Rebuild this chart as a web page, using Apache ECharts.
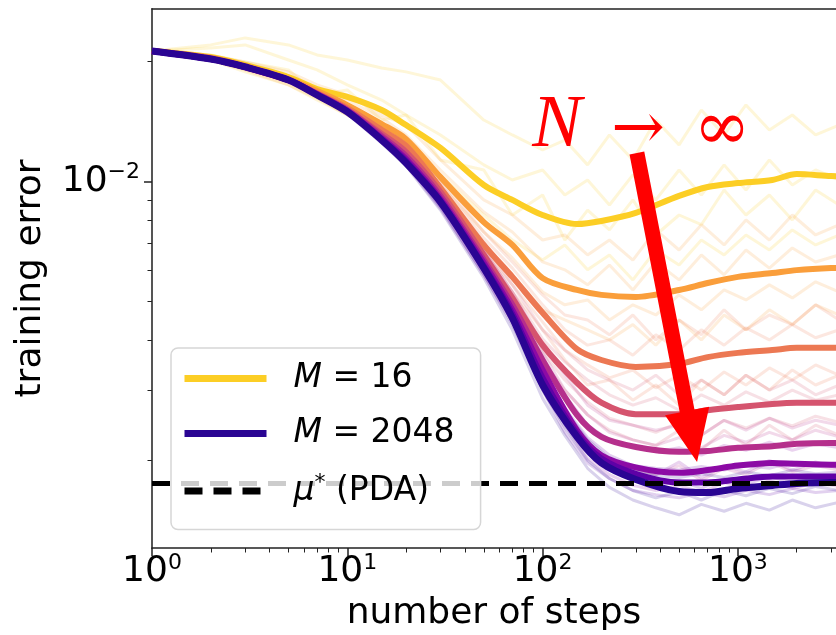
<!DOCTYPE html>
<html>
<head>
<meta charset="utf-8">
<script src="https://cdn.jsdelivr.net/npm/echarts@6/dist/echarts.min.js"></script>
<style>
  html, body { margin: 0; padding: 0; background: #fff; }
  #chart { width: 836px; height: 635px; }
</style>
</head>
<body>
<div id="chart"></div>
<script>
  // x grid of the averaged curves and of the single runs
  const steps = [1, 2, 3, 5, 7, 10, 15, 20, 30, 50, 70, 100, 150, 200, 300, 500, 700, 1000, 1500, 2000, 3000, 4000];
  const runSteps = [1, 2, 3, 5, 7, 10, 15, 20, 30, 50, 70, 100, 130, 170, 220, 290, 380, 500, 650, 850, 1100, 1450, 1900, 2500, 3300];

  const sizes = [16, 32, 64, 128, 256, 512, 1024, 2048];
  const colors = ['#fcce25', '#fa9e3b', '#ec7853', '#d5546e', '#b52f8c', '#8c0aa5', '#5f01a6', '#2a0593'];

  // averaged training error per M
  const meanM16 = [0.02128, 0.02055, 0.01963, 0.01830, 0.01708, 0.01632, 0.01513, 0.01387, 0.01215, 0.00981, 0.00900, 0.00825, 0.00783, 0.00797, 0.00835, 0.00921, 0.00970, 0.00992, 0.01010, 0.01045, 0.01033, 0.01030];
  const meanM32 = [0.02128, 0.02043, 0.01951, 0.01809, 0.01688, 0.01557, 0.01395, 0.01279, 0.01027, 0.00792, 0.00694, 0.00573, 0.00535, 0.00520, 0.00514, 0.00535, 0.00557, 0.00577, 0.00590, 0.00600, 0.00607, 0.00608];
  const meanM64 = [0.02128, 0.02043, 0.01940, 0.01799, 0.01669, 0.01530, 0.01348, 0.01229, 0.00964, 0.00694, 0.00577, 0.00469, 0.00380, 0.00357, 0.00343, 0.00349, 0.00363, 0.00372, 0.00378, 0.00383, 0.00383, 0.00383];
  const meanM128 = [0.02128, 0.02031, 0.01940, 0.01799, 0.01660, 0.01513, 0.01318, 0.01187, 0.00942, 0.00655, 0.00511, 0.00389, 0.00313, 0.00279, 0.00261, 0.00261, 0.00267, 0.00272, 0.00277, 0.00279, 0.00279, 0.00279];
  const meanM256 = [0.02128, 0.02031, 0.01940, 0.01799, 0.01660, 0.01513, 0.01302, 0.01160, 0.00921, 0.00636, 0.00491, 0.00357, 0.00260, 0.00229, 0.00216, 0.00210, 0.00211, 0.00215, 0.00217, 0.00220, 0.00221, 0.00221];
  const meanM512 = [0.02128, 0.02031, 0.01940, 0.01799, 0.01660, 0.01504, 0.01287, 0.01140, 0.00905, 0.00625, 0.00477, 0.00337, 0.00238, 0.00206, 0.00192, 0.00186, 0.00189, 0.00194, 0.00197, 0.00196, 0.00195, 0.00195];
  const meanM1024 = [0.02128, 0.02031, 0.01940, 0.01799, 0.01650, 0.01504, 0.01279, 0.01127, 0.00895, 0.00614, 0.00466, 0.00322, 0.00233, 0.00202, 0.00185, 0.00176, 0.00176, 0.00179, 0.00182, 0.00182, 0.00182, 0.00182];
  const meanM2048 = [0.02128, 0.02031, 0.01940, 0.01799, 0.01650, 0.01496, 0.01272, 0.01114, 0.00889, 0.00607, 0.00455, 0.00309, 0.00229, 0.00197, 0.00179, 0.00167, 0.00166, 0.00170, 0.00173, 0.00175, 0.00176, 0.00176];

  // a few single runs per M (the faint lines)
  const runsM16 = [
    [0.02128, 0.02204, 0.02295, 0.02204, 0.02080, 0.02020, 0.01929, 0.01886, 0.01799, 0.01428, 0.01310, 0.01201, 0.01272, 0.01102, 0.01310, 0.01134, 0.01428, 0.01237, 0.01513, 0.01310, 0.01558, 0.01348, 0.01470, 0.01310, 0.01388],
    [0.02128, 0.02020, 0.01886, 0.01749, 0.01603, 0.01470, 0.01310, 0.01134, 0.01040, 0.00825, 0.00714, 0.00636, 0.00694, 0.00601, 0.00655, 0.00567, 0.00674, 0.00618, 0.00714, 0.00655, 0.00735, 0.00674, 0.00757, 0.00694, 0.00735],
    [0.02128, 0.02080, 0.01997, 0.01907, 0.01651, 0.01699, 0.01428, 0.01470, 0.01134, 0.01070, 0.00825, 0.00926, 0.00714, 0.00849, 0.00757, 0.00900, 0.00735, 0.00825, 0.00780, 0.00953, 0.00825, 0.00926, 0.00802, 0.00953, 0.00874],
    [0.02128, 0.02166, 0.02204, 0.02020, 0.01907, 0.01749, 0.01603, 0.01470, 0.01310, 0.01102, 0.01010, 0.01070, 0.00926, 0.01010, 0.00874, 0.01040, 0.00900, 0.01070, 0.00926, 0.01102, 0.00953, 0.01134, 0.00981, 0.01070, 0.01010]
  ];
  const runsM32 = [
    [0.02128, 0.02067, 0.01997, 0.01886, 0.01749, 0.01651, 0.01470, 0.01388, 0.01134, 0.00900, 0.00825, 0.00714, 0.00735, 0.00655, 0.00714, 0.00636, 0.00757, 0.00674, 0.00780, 0.00694, 0.00802, 0.00714, 0.00825, 0.00735, 0.00780],
    [0.02128, 0.02020, 0.01907, 0.01749, 0.01621, 0.01470, 0.01310, 0.01167, 0.00926, 0.00694, 0.00584, 0.00477, 0.00450, 0.00425, 0.00401, 0.00438, 0.00389, 0.00450, 0.00401, 0.00463, 0.00425, 0.00477, 0.00438, 0.00491, 0.00463],
    [0.02128, 0.02055, 0.01974, 0.01842, 0.01718, 0.01603, 0.01445, 0.01310, 0.01070, 0.00839, 0.00748, 0.00629, 0.00601, 0.00551, 0.00618, 0.00535, 0.00629, 0.00567, 0.00655, 0.00584, 0.00674, 0.00607, 0.00682, 0.00629, 0.00655],
    [0.02128, 0.02031, 0.01940, 0.01799, 0.01679, 0.01530, 0.01364, 0.01237, 0.00981, 0.00748, 0.00644, 0.00529, 0.00491, 0.00505, 0.00450, 0.00491, 0.00463, 0.00520, 0.00477, 0.00535, 0.00505, 0.00551, 0.00511, 0.00561, 0.00529]
  ];
  const runsM64 = [
    [0.02128, 0.02055, 0.01963, 0.01820, 0.01699, 0.01558, 0.01388, 0.01272, 0.01010, 0.00748, 0.00629, 0.00520, 0.00463, 0.00450, 0.00413, 0.00463, 0.00401, 0.00450, 0.00413, 0.00477, 0.00425, 0.00463, 0.00438, 0.00491, 0.00450],
    [0.02128, 0.02031, 0.01918, 0.01780, 0.01641, 0.01496, 0.01302, 0.01201, 0.00910, 0.00644, 0.00529, 0.00425, 0.00357, 0.00309, 0.00318, 0.00283, 0.00309, 0.00275, 0.00318, 0.00292, 0.00327, 0.00300, 0.00337, 0.00309, 0.00327],
    [0.02128, 0.02043, 0.01951, 0.01809, 0.01679, 0.01541, 0.01356, 0.01244, 0.00988, 0.00722, 0.00607, 0.00491, 0.00425, 0.00389, 0.00401, 0.00367, 0.00413, 0.00378, 0.00425, 0.00389, 0.00430, 0.00401, 0.00438, 0.00406, 0.00425],
    [0.02128, 0.02031, 0.01929, 0.01790, 0.01650, 0.01513, 0.01326, 0.01201, 0.00936, 0.00666, 0.00551, 0.00445, 0.00378, 0.00347, 0.00322, 0.00337, 0.00304, 0.00327, 0.00300, 0.00333, 0.00309, 0.00341, 0.00318, 0.00347, 0.00327]
  ];
  const runsM128 = [
    [0.02128, 0.02043, 0.01951, 0.01809, 0.01669, 0.01530, 0.01348, 0.01222, 0.00981, 0.00694, 0.00551, 0.00425, 0.00378, 0.00337, 0.00318, 0.00300, 0.00327, 0.00292, 0.00318, 0.00292, 0.00327, 0.00300, 0.00318, 0.00292, 0.00309],
    [0.02128, 0.02020, 0.01929, 0.01780, 0.01635, 0.01487, 0.01257, 0.01110, 0.00900, 0.00618, 0.00472, 0.00357, 0.00300, 0.00260, 0.00238, 0.00225, 0.00218, 0.00238, 0.00212, 0.00238, 0.00218, 0.00245, 0.00225, 0.00245, 0.00231],
    [0.02128, 0.02043, 0.01940, 0.01799, 0.01669, 0.01530, 0.01341, 0.01201, 0.00964, 0.00674, 0.00529, 0.00403, 0.00353, 0.00318, 0.00292, 0.00275, 0.00287, 0.00267, 0.00292, 0.00275, 0.00297, 0.00280, 0.00300, 0.00283, 0.00292],
    [0.02128, 0.02031, 0.01929, 0.01790, 0.01650, 0.01496, 0.01279, 0.01167, 0.00910, 0.00629, 0.00491, 0.00373, 0.00318, 0.00280, 0.00255, 0.00245, 0.00235, 0.00249, 0.00231, 0.00252, 0.00241, 0.00255, 0.00244, 0.00258, 0.00249]
  ];
  const runsM256 = [
    [0.02128, 0.02043, 0.01951, 0.01809, 0.01660, 0.01530, 0.01318, 0.01187, 0.00953, 0.00674, 0.00529, 0.00389, 0.00327, 0.00275, 0.00252, 0.00245, 0.00238, 0.00245, 0.00231, 0.00252, 0.00238, 0.00255, 0.00241, 0.00252, 0.00245],
    [0.02128, 0.02020, 0.01929, 0.01790, 0.01650, 0.01496, 0.01272, 0.01134, 0.00884, 0.00601, 0.00455, 0.00327, 0.00260, 0.00218, 0.00200, 0.00189, 0.00184, 0.00194, 0.00178, 0.00191, 0.00184, 0.00198, 0.00187, 0.00194, 0.00189],
    [0.02128, 0.02031, 0.01940, 0.01799, 0.01660, 0.01513, 0.01318, 0.01174, 0.00936, 0.00651, 0.00505, 0.00373, 0.00300, 0.00260, 0.00235, 0.00225, 0.00218, 0.00228, 0.00215, 0.00231, 0.00222, 0.00235, 0.00225, 0.00238, 0.00229]
  ];
  const runsM512 = [
    [0.02128, 0.02043, 0.01951, 0.01809, 0.01660, 0.01522, 0.01318, 0.01167, 0.00942, 0.00666, 0.00511, 0.00361, 0.00292, 0.00245, 0.00225, 0.00216, 0.00210, 0.00215, 0.00206, 0.00218, 0.00212, 0.00222, 0.00212, 0.00220, 0.00215],
    [0.02128, 0.02020, 0.01929, 0.01790, 0.01641, 0.01487, 0.01265, 0.01114, 0.00864, 0.00584, 0.00445, 0.00314, 0.00245, 0.00202, 0.00184, 0.00173, 0.00168, 0.00173, 0.00166, 0.00176, 0.00168, 0.00178, 0.00170, 0.00176, 0.00172],
    [0.02128, 0.02031, 0.01940, 0.01799, 0.01660, 0.01504, 0.01302, 0.01147, 0.00900, 0.00614, 0.00472, 0.00333, 0.00264, 0.00215, 0.00198, 0.00191, 0.00184, 0.00198, 0.00181, 0.00194, 0.00187, 0.00200, 0.00189, 0.00198, 0.00191]
  ];
  const runsM1024 = [
    [0.02128, 0.02043, 0.01951, 0.01809, 0.01660, 0.01513, 0.01302, 0.01150, 0.00926, 0.00644, 0.00491, 0.00341, 0.00270, 0.00228, 0.00206, 0.00194, 0.00191, 0.00189, 0.00193, 0.00189, 0.00194, 0.00191, 0.00198, 0.00193, 0.00196],
    [0.02128, 0.02020, 0.01929, 0.01790, 0.01641, 0.01487, 0.01257, 0.01102, 0.00858, 0.00584, 0.00438, 0.00300, 0.00235, 0.00197, 0.00180, 0.00168, 0.00164, 0.00161, 0.00166, 0.00162, 0.00168, 0.00164, 0.00170, 0.00166, 0.00168],
    [0.02128, 0.02031, 0.01940, 0.01799, 0.01650, 0.01496, 0.01272, 0.01134, 0.00884, 0.00601, 0.00455, 0.00314, 0.00250, 0.00210, 0.00191, 0.00180, 0.00173, 0.00178, 0.00170, 0.00180, 0.00174, 0.00182, 0.00176, 0.00183, 0.00178]
  ];
  const runsM2048 = [
    [0.02128, 0.02043, 0.01951, 0.01809, 0.01660, 0.01513, 0.01287, 0.01134, 0.00921, 0.00636, 0.00484, 0.00333, 0.00267, 0.00225, 0.00202, 0.00189, 0.00183, 0.00181, 0.00185, 0.00181, 0.00187, 0.00183, 0.00189, 0.00185, 0.00187],
    [0.02128, 0.02020, 0.01929, 0.01790, 0.01641, 0.01479, 0.01250, 0.01096, 0.00849, 0.00574, 0.00425, 0.00286, 0.00231, 0.00191, 0.00171, 0.00159, 0.00152, 0.00146, 0.00155, 0.00149, 0.00156, 0.00150, 0.00159, 0.00152, 0.00157],
    [0.02128, 0.02031, 0.01940, 0.01799, 0.01650, 0.01496, 0.01265, 0.01102, 0.00877, 0.00595, 0.00445, 0.00300, 0.00242, 0.00200, 0.00180, 0.00168, 0.00161, 0.00167, 0.00159, 0.00168, 0.00163, 0.00170, 0.00165, 0.00172, 0.00168]
  ];

  const muStar = 0.00175;

  const xMajor = [1, 10, 100, 1000];
  const xMinor = [2, 3, 4, 5, 6, 7, 8, 9, 20, 30, 40, 50, 60, 70, 80, 90, 200, 300, 400, 500, 600, 700, 800, 900, 2000, 3000];
  const yMajor = [0.01];
  const yMinor = [0.002, 0.003, 0.004, 0.005, 0.006, 0.007, 0.008, 0.009, 0.02];

  // annotation arrow, in data coordinates
  const arrowTail = [304, 0.0118];
  const arrowTip = [618, 0.00198];

  const means = [meanM16, meanM32, meanM64, meanM128, meanM256, meanM512, meanM1024, meanM2048];
  const runs = [runsM16, runsM32, runsM64, runsM128, runsM256, runsM512, runsM1024, runsM2048];

  const FONT = '"DejaVu Sans", sans-serif';
  const X_MIN = 1, X_MAX = 3180;
  const Y_MIN = 0.001205, Y_MAX = 0.02712;

  const powRich = {
    b: { fontSize: 36, fontFamily: FONT, color: '#000', lineHeight: 40 },
    s: { fontSize: 22, fontFamily: FONT, color: '#000', lineHeight: 22, verticalAlign: 'top' }
  };
  function powLabel(v) {
    const e = Math.round(Math.log10(v));
    return '{b|10}{s|' + (e < 0 ? '\u2212' + (-e) : e) + '}';
  }

  const nameStyle = { fontSize: 36, fontFamily: FONT, color: '#000' };
  const spine = { color: '#222', width: 1.5 };

  const series = [];
  runs.forEach((group, i) => {
    group.forEach((run) => {
      series.push({
        type: 'line',
        data: runSteps.map((s, k) => [s, run[k]]),
        symbol: 'none',
        silent: true,
        lineStyle: { color: colors[i], width: 3, opacity: 0.18 },
        z: 2
      });
    });
  });
  const firstMain = series.length;
  means.forEach((m, i) => {
    series.push({
      name: 'M = ' + sizes[i],
      type: 'line',
      data: steps.map((s, k) => [s, m[k]]),
      symbol: 'none',
      smooth: 0.3,
      silent: true,
      lineStyle: { color: colors[i], width: i === means.length - 1 ? 7 : 6 },
      itemStyle: { color: colors[i] },
      z: 2
    });
  });
  series.push({
    name: 'mu',
    type: 'line',
    data: [[X_MIN, muStar], [4000, muStar]],
    symbol: 'none',
    silent: true,
    lineStyle: { color: '#000', width: 5, type: [18, 11] },
    itemStyle: { color: '#000' },
    z: 3
  });

  const chart = echarts.init(document.getElementById('chart'), null, { renderer: 'canvas' });

  chart.setOption({
    animation: false,
    backgroundColor: '#fff',
    grid: { left: 152, right: 0, top: 9, bottom: 87, outerBoundsMode: 'none', containLabel: false },
    legend: {
      data: ['M = 16', 'M = 2048', 'mu'],
      orient: 'vertical',
      left: 171,
      top: 348,
      padding: [14, 26, 22, 10],
      itemWidth: 82,
      itemHeight: 14,
      itemGap: 22,
      backgroundColor: 'rgba(255,255,255,0.8)',
      borderColor: '#d6d6d6',
      borderWidth: 1.5,
      borderRadius: 7,
      selectedMode: false,
      itemStyle: { color: 'rgba(0,0,0,0)', borderWidth: 0, borderColor: 'rgba(0,0,0,0)' },
      lineStyle: { width: 7 },
      formatter: function (name) {
        if (name === 'mu') return '{it|\u03bc}{sup|*}{n| (PDA)}';
        return '{it|M}{n| = ' + name.slice(4) + '}';
      },
      textStyle: {
        fontSize: 33,
        fontFamily: FONT,
        color: '#000',
        padding: [0, 0, 0, 22],
        rich: {
          it: { fontSize: 33, fontStyle: 'italic', fontFamily: FONT, color: '#000', lineHeight: 38 },
          n: { fontSize: 33, fontFamily: FONT, color: '#000', lineHeight: 38 },
          sup: { fontSize: 22, fontFamily: FONT, color: '#000', lineHeight: 22, verticalAlign: 'top' }
        }
      }
    },
    xAxis: [
      {
        type: 'log', min: X_MIN, max: X_MAX, position: 'bottom',
        name: 'number of steps', nameLocation: 'middle', nameGap: 48, nameTextStyle: nameStyle,
        axisLine: { show: true, onZero: false, lineStyle: spine },
        axisTick: { show: true, customValues: xMajor, length: 8, lineStyle: spine },
        axisLabel: { customValues: xMajor, formatter: powLabel, rich: powRich, margin: 4 },
        splitLine: { show: false }
      },
      {
        type: 'log', min: X_MIN, max: X_MAX, position: 'bottom',
        axisLine: { show: false },
        axisTick: { show: true, customValues: xMinor, length: 4.5, lineStyle: { color: '#222', width: 1 } },
        axisLabel: { show: false },
        splitLine: { show: false }
      },
      {
        type: 'log', min: X_MIN, max: X_MAX, position: 'top',
        axisLine: { show: true, onZero: false, lineStyle: spine },
        axisTick: { show: false },
        axisLabel: { show: false },
        splitLine: { show: false }
      }
    ],
    yAxis: [
      {
        type: 'log', min: Y_MIN, max: Y_MAX, position: 'left',
        name: 'training error', nameLocation: 'middle', nameGap: 103, nameTextStyle: nameStyle,
        axisLine: { show: true, onZero: false, lineStyle: { color: '#555', width: 2 } },
        axisTick: { show: true, customValues: yMajor, length: 8, lineStyle: spine },
        axisLabel: { customValues: yMajor, formatter: powLabel, rich: powRich, margin: 12 },
        splitLine: { show: false }
      },
      {
        type: 'log', min: Y_MIN, max: Y_MAX, position: 'left',
        axisLine: { show: false },
        axisTick: { show: true, customValues: yMinor, length: 4.5, lineStyle: { color: '#222', width: 1 } },
        axisLabel: { show: false },
        splitLine: { show: false }
      }
    ],
    series: series
  });

  // red "N -> infinity" annotation
  const a = chart.convertToPixel({ seriesIndex: firstMain }, arrowTail);
  const b = chart.convertToPixel({ seriesIndex: firstMain }, arrowTip);
  const dx = b[0] - a[0], dy = b[1] - a[1];
  const len = Math.sqrt(dx * dx + dy * dy);
  const ux = dx / len, uy = dy / len;
  const px = -uy, py = ux;
  const headLen = 52, headHalf = 22.5, shaftHalf = 7.5;
  const bx = b[0] - ux * headLen, by = b[1] - uy * headLen;
  const arrowPts = [
    [a[0] + px * shaftHalf, a[1] + py * shaftHalf],
    [bx + px * shaftHalf, by + py * shaftHalf],
    [bx + px * headHalf, by + py * headHalf],
    [b[0], b[1]],
    [bx - px * headHalf, by - py * headHalf],
    [bx - px * shaftHalf, by - py * shaftHalf],
    [a[0] - px * shaftHalf, a[1] - py * shaftHalf]
  ];

  chart.setOption({
    graphic: [
      { type: 'polygon', shape: { points: arrowPts }, style: { fill: '#ff0000' }, z: 100, silent: true },
      { type: 'text', x: 557, y: 127, z: 100, silent: true,
        style: { text: 'N', font: 'italic 74px "Liberation Serif", serif', fill: '#ff0000', align: 'center', verticalAlign: 'middle' } },
      { type: 'text', x: 638, y: 131, z: 100, silent: true,
        style: { text: '\u2192', font: '64px "DejaVu Serif", serif', fill: '#ff0000', align: 'center', verticalAlign: 'middle' } },
      { type: 'text', x: 722, y: 131, z: 100, silent: true,
        style: { text: '\u221e', font: '68px "DejaVu Serif", serif', fill: '#ff0000', align: 'center', verticalAlign: 'middle' } }
    ]
  });
</script>
</body>
</html>
